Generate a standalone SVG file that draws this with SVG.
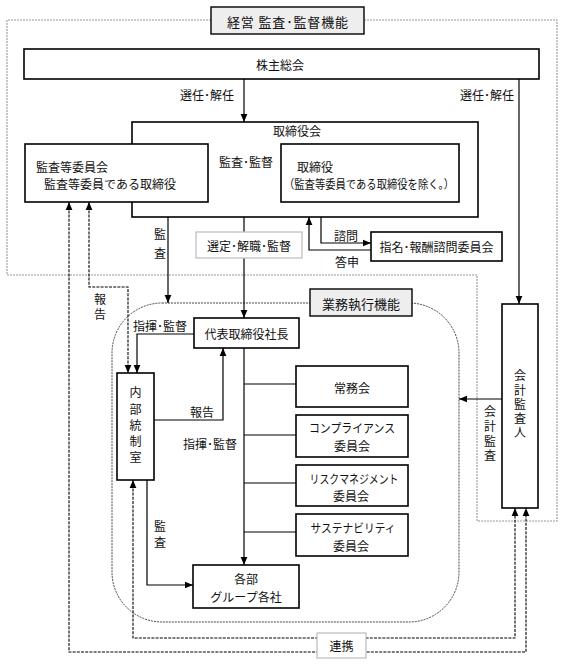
<svg xmlns="http://www.w3.org/2000/svg" width="563" height="664" viewBox="0 0 563 664">
<style>
text { font-family: "Noto Sans CJK JP", "Noto Sans CJK SC", sans-serif; font-size: 12px; fill: #111; }
.c { text-anchor: middle; dominant-baseline: central; }
.l { dominant-baseline: central; }
.v { writing-mode: vertical-rl; text-anchor: middle; dominant-baseline: central; }
.big { font-size: 13px; }
.box { fill: #fff; stroke: #000; stroke-width: 1.6; }
.lbl { fill: #eee; stroke: #000; stroke-width: 1.4; }
.soft { fill: #fff; stroke: #bbb; stroke-width: 1.2; }
.ln { fill: none; stroke: #000; stroke-width: 1.2; }
.dl { fill: none; stroke: #000; stroke-width: 1.1; stroke-dasharray: 3 1.2; }
.gray { fill: none; stroke: #999; stroke-width: 1.1; stroke-dasharray: 2 1; }
.area { fill: none; stroke: #333; stroke-width: 0.9; stroke-dasharray: 2 1; }
</style>
<defs>
<marker id="a" viewBox="0 0 10 10" refX="10" refY="5" markerWidth="8" markerHeight="8" orient="auto-start-reverse" markerUnits="userSpaceOnUse">
<path d="M0,0.8 L10,5 L0,9.2 z" fill="#000"/>
</marker>
</defs>

<g id="frames">
<path class="gray" d="M211 20 H7 V275 H477 V521 H557 V20 H364"/>
<rect class="area" x="112" y="303" width="347" height="319" rx="50"/>
</g>

<g id="connectors">
<line class="ln" x1="244" y1="79" x2="244" y2="122" marker-end="url(#a)"/>
<polyline class="ln" points="519,79 519,304" marker-end="url(#a)"/>
<line class="ln" x1="208" y1="172" x2="281" y2="172" marker-end="url(#a)"/>
<line class="ln" x1="168" y1="202" x2="168" y2="303" marker-end="url(#a)"/>
<line class="ln" x1="244" y1="217" x2="244" y2="318" marker-end="url(#a)"/>
<polyline class="ln" points="321,217 321,243 371,243" marker-end="url(#a)"/>
<polyline class="ln" points="371,250 309,250 309,217" marker-end="url(#a)"/>
<line class="ln" x1="502" y1="399" x2="459" y2="399" marker-end="url(#a)"/>
<polyline class="ln" points="194,334 137,334 137,373" marker-end="url(#a)"/>
<polyline class="ln" points="154,420 223,420 223,348" marker-end="url(#a)"/>
<polyline class="ln" points="147,480 147,585 193,585" marker-end="url(#a)"/>
<line class="ln" x1="244" y1="348" x2="244" y2="565" marker-end="url(#a)"/>
<line class="ln" x1="244" y1="384" x2="296" y2="384"/>
<line class="ln" x1="244" y1="435" x2="296" y2="435"/>
<line class="ln" x1="244" y1="483" x2="296" y2="483"/>
<line class="ln" x1="244" y1="532" x2="296" y2="532"/>
<polyline class="dl" points="89,202 89,287 128,287 128,373" marker-start="url(#a)" marker-end="url(#a)"/>
<polyline class="dl" points="69,202 69,652 526,652 526,508" marker-start="url(#a)" marker-end="url(#a)"/>
<polyline class="dl" points="133,480 133,638 515,638 515,508" marker-start="url(#a)" marker-end="url(#a)"/>
</g>

<g id="title">
<rect class="lbl" x="211" y="7" width="153" height="27"/>
<text class="c big" x="287.5" y="21" textLength="121">経営 監査･監督機能</text>
</g>

<g id="shareholders">
<rect class="box" x="24" y="49" width="515" height="30"/>
<text class="c" x="280" y="64">株主総会</text>
</g>

<g id="labels-top">
<text class="c" x="207" y="94">選任･解任</text>
<text class="c" x="487" y="94">選任･解任</text>
</g>

<g id="board">
<rect class="box" x="132" y="122" width="346" height="95"/>
<text class="c" x="297" y="130">取締役会</text>
</g>

<g id="audit-committee">
<rect class="box" x="25" y="144" width="183" height="58"/>
<text class="l"><tspan x="36" y="165.5">監査等委員会</tspan><tspan x="44" y="183">監査等委員である取締役</tspan></text>
</g>

<g id="directors">
<rect class="box" x="281" y="144" width="178" height="58"/>
<text class="l"><tspan x="297" y="165.5">取締役</tspan><tspan x="284" y="183" textLength="170" lengthAdjust="spacingAndGlyphs">（監査等委員である取締役を除く。）</tspan></text>
</g>

<g id="label-audit-supervise">
<text class="c" x="246" y="161">監査･監督</text>
</g>

<g id="label-audit1">
<text class="v" x="160" y="247.5" letter-spacing="7">監査</text>
</g>

<g id="appoint">
<rect class="soft" x="196" y="232" width="106" height="26"/>
<text class="c" x="249" y="245">選定･解職･監督</text>
</g>

<g id="nomination">
<rect class="box" x="371" y="232" width="131" height="29"/>
<text class="c" x="436.5" y="246.5">指名･報酬諮問委員会</text>
<text class="c" x="346" y="235">諮問</text>
<text class="c" x="347" y="261">答申</text>
</g>

<g id="label-report1">
<text class="v" x="100" y="308.5" letter-spacing="3">報告</text>
</g>

<g id="exec-label">
<rect class="lbl" x="310" y="289" width="102" height="27"/>
<text class="c big" x="361" y="303">業務執行機能</text>
</g>

<g id="president">
<rect class="box" x="194" y="318" width="105" height="30"/>
<text class="c" x="246.5" y="333">代表取締役社長</text>
</g>

<g id="internal-control">
<rect class="box" x="117" y="373" width="37" height="107"/>
<text class="v" x="135.5" y="427.5" letter-spacing="4.25">内部統制室</text>
</g>

<g id="labels-exec">
<text class="c" x="160" y="325">指揮･監督</text>
<text class="c" x="202" y="411">報告</text>
<text class="c" x="210" y="443">指揮･監督</text>
<text class="v" x="160" y="536" letter-spacing="4">監査</text>
</g>

<g id="executive-committee">
<rect class="box" x="296" y="366" width="112" height="41"/>
<text class="c" x="352" y="387">常務会</text>
</g>

<g id="compliance">
<rect class="box" x="296" y="415" width="112" height="42"/>
<text class="c"><tspan x="352" y="427" textLength="86" lengthAdjust="spacingAndGlyphs">コンプライアンス</tspan><tspan x="352" y="444.5">委員会</tspan></text>
</g>

<g id="risk">
<rect class="box" x="296" y="465" width="112" height="41"/>
<text class="c"><tspan x="354" y="477.5" textLength="89" lengthAdjust="spacingAndGlyphs">リスクマネジメント</tspan><tspan x="351" y="495">委員会</tspan></text>
</g>

<g id="sustainability">
<rect class="box" x="296" y="514" width="112" height="42"/>
<text class="c"><tspan x="353" y="527" textLength="85" lengthAdjust="spacingAndGlyphs">サステナビリティ</tspan><tspan x="351" y="544.5">委員会</tspan></text>
</g>

<g id="departments">
<rect class="box" x="193" y="565" width="106" height="43"/>
<text class="c"><tspan x="246" y="578">各部</tspan><tspan x="246" y="596">グループ各社</tspan></text>
</g>

<g id="auditor">
<rect class="box" x="502" y="304" width="36" height="204"/>
<text class="v" x="520" y="405.5" letter-spacing="2.25">会計監査人</text>
</g>

<g id="label-accounting-audit">
<text class="v" x="490" y="435" letter-spacing="2.7">会計監査</text>
</g>

<g id="cooperation">
<rect class="soft" x="317" y="633" width="49" height="25"/>
<text class="c" x="341.5" y="645.5">連携</text>
</g>
</svg>
